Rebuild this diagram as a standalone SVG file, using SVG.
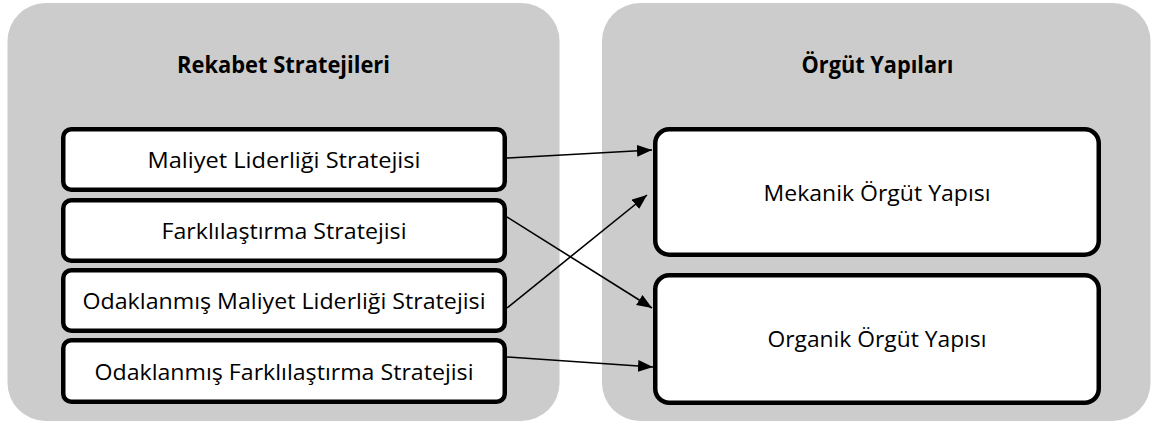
<svg xmlns="http://www.w3.org/2000/svg" width="1151" height="423" viewBox="0 0 1151 423">
<style>
.panel{fill:#cccccc;stroke:none}
.box{fill:#ffffff;stroke:#000000;stroke-width:4.5}
.title{font-family:"Open Sans","Liberation Sans",sans-serif;font-weight:bold;font-size:24px;fill:#000000;text-anchor:middle}
.lbl{font-family:"Open Sans","Liberation Sans",sans-serif;font-size:21.5px;fill:#000000;text-anchor:middle}
.conn{stroke:#000000;stroke-width:1.6;fill:none;marker-end:url(#arr)}
</style>
<defs>
<marker id="arr" markerUnits="userSpaceOnUse" markerWidth="16" markerHeight="13" refX="15" refY="6" orient="auto">
<path d="M0,0 L15,6 L0,12 z" fill="#000000"/>
</marker>
</defs>
<rect width="1151" height="423" fill="#ffffff"/>
<g id="panel-rekabet">
<rect class="panel" x="7.5" y="3" width="552" height="418" rx="38" ry="38"/>
<text class="title" x="283.5" y="73" textLength="213" lengthAdjust="spacingAndGlyphs">Rekabet Stratejileri</text>
</g>
<g id="panel-orgut">
<rect class="panel" x="602" y="3" width="548.5" height="418" rx="38" ry="38"/>
<text class="title" x="877.5" y="73" textLength="152" lengthAdjust="spacingAndGlyphs">Örgüt Yapıları</text>
</g>
<g id="node-maliyet">
<rect class="box" x="63.25" y="129.25" width="441.5" height="60.5" rx="8" ry="8"/>
<text class="lbl" x="284" y="168" textLength="273" lengthAdjust="spacingAndGlyphs">Maliyet Liderliği Stratejisi</text>
</g>
<g id="node-farklilastirma">
<rect class="box" x="63.25" y="200.25" width="441.5" height="60.5" rx="8" ry="8"/>
<text class="lbl" x="284" y="239" textLength="245" lengthAdjust="spacingAndGlyphs">Farklılaştırma Stratejisi</text>
</g>
<g id="node-odak-maliyet">
<rect class="box" x="63.25" y="270.25" width="441.5" height="60.5" rx="8" ry="8"/>
<text class="lbl" x="284" y="309.3" textLength="403" lengthAdjust="spacingAndGlyphs">Odaklanmış Maliyet Liderliği Stratejisi</text>
</g>
<g id="node-odak-farklilastirma">
<rect class="box" x="63.25" y="340.25" width="441.5" height="61.5" rx="8" ry="8"/>
<text class="lbl" x="284" y="380" textLength="379" lengthAdjust="spacingAndGlyphs">Odaklanmış Farklılaştırma Stratejisi</text>
</g>
<g id="node-mekanik">
<rect class="box" x="655.25" y="129.25" width="443.5" height="125.5" rx="14" ry="14"/>
<text class="lbl" x="877" y="200.5" textLength="227" lengthAdjust="spacingAndGlyphs">Mekanik Örgüt Yapısı</text>
</g>
<g id="node-organik">
<rect class="box" x="655.25" y="275.25" width="443.5" height="127.5" rx="14" ry="14"/>
<text class="lbl" x="877" y="347" textLength="219" lengthAdjust="spacingAndGlyphs">Organik Örgüt Yapısı</text>
</g>
<g id="connectors">
<line class="conn" x1="507" y1="158" x2="652" y2="150"/>
<line class="conn" x1="507" y1="217" x2="652" y2="308"/>
<line class="conn" x1="507" y1="308" x2="647" y2="195"/>
<line class="conn" x1="507" y1="357" x2="653" y2="367"/>
</g>
</svg>
